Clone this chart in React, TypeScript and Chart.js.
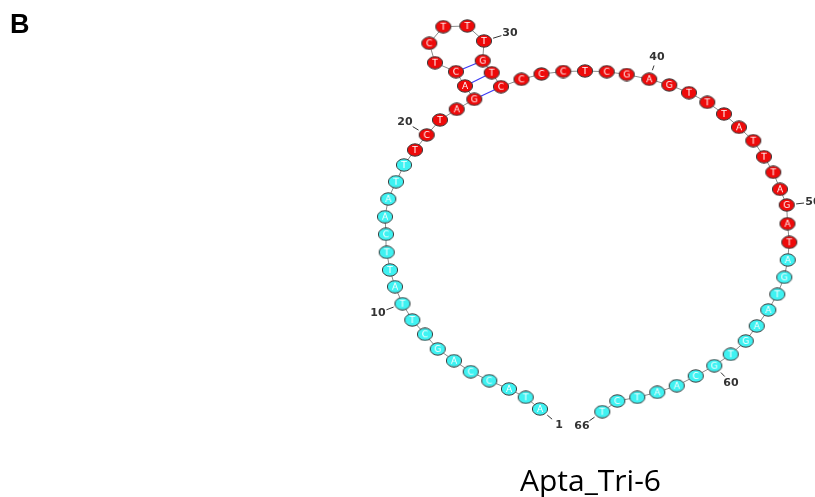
import React, { useEffect, useRef } from "react";
import { Chart, registerables } from "chart.js";
Chart.register(...registerables);

// nucleotide sequence (1..66)
const sequence = (
  "ATACCAGCTTATTCAATTTC" +
  "TAGACTCTTTGTCCCCTCGA" +
  "GTTTATTTAGAT" +
  "AGTAAGTGCAATCT"
).split("");

// layout coordinates of each nucleotide (structure drawing space)
const nodeX = [
  540, 525.7, 509, 489.3, 470.7, 454, 437.7, 425, 412.3, 402.5,
  395, 390, 386.7, 386, 385, 388.3, 396, 404, 415, 426.7,
  440, 456.7, 474.3, 465, 456, 435, 429.3, 443.3, 467.3, 484,
  482.7, 491.7, 501, 521.5, 541.5, 563.3, 585, 606.7, 626.7, 649.2,
  669.3, 689, 707.3, 724, 739, 753.3, 764, 773.3, 780, 786.7,
  787.5, 789.3, 787.7, 784.3, 777.3, 768.3, 756.7, 745.7, 730.7, 714.3,
  695.7, 676.7, 657.3, 637.3, 617.3, 602.3,
];
const nodeY = [
  409, 397.3, 389, 380.7, 371.7, 360.7, 349, 334.3, 320, 303.7,
  286.7, 270, 252.3, 234.3, 216.7, 199, 181.7, 165, 150, 135,
  120, 109.3, 99.3, 86, 71.7, 62.7, 43.3, 26.7, 26, 41,
  60.7, 72.7, 86.7, 79.3, 74, 71.5, 71, 71.7, 74.5, 79.2,
  85, 92.7, 102.3, 114, 127.3, 140.7, 156.7, 172.3, 189.3, 205,
  223.7, 242.3, 260, 277.3, 294.3, 310, 326, 341, 354.3, 365.7,
  376, 385.7, 392.3, 397.3, 401, 411.7,
];

// highlighted (red) region, 1-based inclusive
const highlightStart = 19;
const highlightEnd = 52;

// base pairs (1-based)
const pairs: [number, number][] = [
  [23, 33],
  [24, 32],
  [25, 31],
];

// position labels
const labelIndex = [1, 10, 20, 30, 40, 50, 60, 66];
const labelX = [559, 378, 405, 510, 657, 813, 731, 582];
const labelY = [425, 313, 122, 33, 57, 202, 383, 426];

const panelLetter = "B";
const chartTitle = "Apta_Tri-6";

const RED = "#ee0a0a";
const CYAN = "#3ff2f2";

function makeNodeImage(letter: string, fill: string): HTMLCanvasElement {
  const c = document.createElement("canvas");
  c.width = 18;
  c.height = 14;
  const g = c.getContext("2d")!;
  g.beginPath();
  g.ellipse(9, 7, 7.6, 6.2, 0, 0, Math.PI * 2);
  g.fillStyle = fill;
  g.fill();
  g.lineWidth = 1;
  g.strokeStyle = "#3c3c3c";
  g.stroke();
  g.fillStyle = "#ffffff";
  g.font = "9px 'DejaVu Sans'";
  g.textAlign = "center";
  g.textBaseline = "middle";
  g.fillText(letter, 9, 7.5);
  return c;
}

const annotate = {
  id: "annotate",
  afterDatasetsDraw(chart: any) {
    const { ctx } = chart;
    const xs = chart.scales.x;
    const ys = chart.scales.y;
    ctx.save();
    labelIndex.forEach((n, i) => {
      const nx = xs.getPixelForValue(nodeX[n - 1]);
      const ny = ys.getPixelForValue(nodeY[n - 1]);
      const lx = xs.getPixelForValue(labelX[i]);
      const ly = ys.getPixelForValue(labelY[i]);
      const dx = lx - nx;
      const dy = ly - ny;
      const d = Math.hypot(dx, dy);
      const ux = dx / d;
      const uy = dy / d;
      ctx.strokeStyle = "#333";
      ctx.lineWidth = 1;
      ctx.beginPath();
      ctx.moveTo(nx + ux * 9.5, ny + uy * 9.5);
      ctx.lineTo(nx + ux * (d - 9), ny + uy * (d - 9));
      ctx.stroke();
      ctx.fillStyle = "#333";
      ctx.font = "bold 11px 'DejaVu Sans'";
      ctx.textAlign = "center";
      ctx.textBaseline = "middle";
      ctx.fillText(String(n), lx, ly);
    });
    ctx.restore();
  },
  afterDraw(chart: any) {
    const { ctx } = chart;
    ctx.save();
    ctx.fillStyle = "#000";
    ctx.textAlign = "left";
    ctx.textBaseline = "alphabetic";
    ctx.font = "bold 27px 'Liberation Sans'";
    ctx.fillText(panelLetter, 10, 33);
    ctx.font = "30px 'Open Sans'";
    ctx.fillText(chartTitle, 520, 491);
    ctx.restore();
  },
};

export default function App() {
  const ref = useRef<HTMLCanvasElement | null>(null);

  useEffect(() => {
    if (!ref.current) return;
    const points = sequence.map((_, i) => ({ x: nodeX[i], y: nodeY[i] }));
    const images = sequence.map((s, i) =>
      makeNodeImage(s, i + 1 >= highlightStart && i + 1 <= highlightEnd ? RED : CYAN)
    );
    const pairSets = pairs.map(([a, b]) => ({
      data: [
        { x: nodeX[a - 1], y: nodeY[a - 1] },
        { x: nodeX[b - 1], y: nodeY[b - 1] },
      ],
      showLine: true,
      borderColor: "#3b3bf5",
      borderWidth: 1.2,
      pointRadius: 0,
      clip: false as any,
      order: 2,
    }));
    const chart = new Chart(ref.current, {
      type: "scatter",
      data: {
        datasets: [
          {
            data: points,
            pointStyle: ((c: any) => images[c.dataIndex]) as any,
            pointRadius: 7,
            showLine: false,
            clip: false as any,
            order: 0,
          },
          {
            data: points,
            showLine: true,
            borderColor: "#8a8a8a",
            borderWidth: 1,
            pointRadius: 0,
            clip: false as any,
            order: 1,
          },
          ...pairSets,
        ] as any,
      },
      options: {
        responsive: false,
        animation: false,
        events: [],
        layout: { padding: 0, autoPadding: false },
        plugins: {
          legend: { display: false },
          tooltip: { enabled: false },
          title: { display: false },
        },
        scales: {
          x: { type: "linear", min: 0, max: 815, display: false },
          y: { type: "linear", min: 0, max: 497, reverse: true, display: false },
        },
      },
      plugins: [annotate],
    });
    return () => chart.destroy();
  }, []);

  return (
    <div style={{ position: "absolute", left: 0, top: 0, width: 815, height: 497, background: "#fff" }}>
      <canvas ref={ref} width={815} height={497} style={{ display: "block" }} />
    </div>
  );
}
